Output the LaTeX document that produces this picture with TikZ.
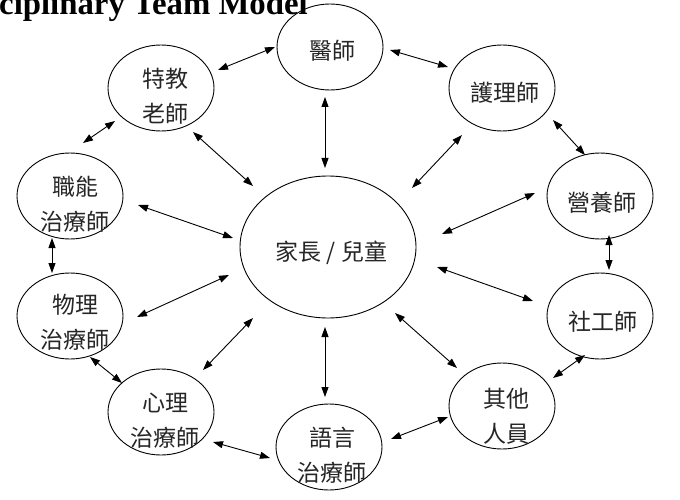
\documentclass[tikz,border=0pt]{standalone}
\usepackage{fontspec}
\setmainfont{Liberation Serif}
\newfontfamily\cjk{Noto Sans CJK TC}
\usetikzlibrary{arrows.meta,calc,shapes.geometric}
\begin{document}
\begin{tikzpicture}[x=1pt,y=-1pt,
  ell/.style={ellipse, draw, line width=0.9pt, minimum width=106pt, minimum height=86pt, inner sep=0pt},
  big/.style={ellipse, draw, line width=0.9pt, minimum width=176pt, minimum height=142pt, inner sep=0pt},
  lbl/.style={inner sep=0pt, align=center, text=black!85, font=\cjk\fontsize{23}{35}\selectfont},
  lk/.style={{Triangle[length=10pt,width=7pt]}-{Triangle[length=10pt,width=7pt]}, line width=0.9pt},
  ttl/.style={inner sep=0pt, anchor=base west, font=\fontsize{32.8}{38}\selectfont\bfseries}]
\fill[white] (0,0) rectangle (680,500);
\useasboundingbox (0,0) rectangle (680,500);
\begin{scope}
\clip (0,0) rectangle (680,500);
\node[ttl] (title) at (-1,14.5) {ciplinary Team Model};
\end{scope}
% ellipses
\node[ell] (T) at (161,88) {};
\node[ell] (D) at (330,47) {};
\node[ell] (N) at (502,88) {};
\node[ell] (Z) at (70,196) {};
\node[ell] (W) at (70,316) {};
\node[ell] (Y) at (600,196) {};
\node[ell] (S) at (600,316) {};
\node[ell] (X) at (161,412) {};
\node[ell] (L) at (329,447) {};
\node[ell] (O) at (502,406) {};
\node[big] (C) at (328,247) {};
% labels
\node[lbl] (Tt) at (165,96.5) {特教\\老師};
\node[lbl] (Dt) at (332.5,51) {醫師};
\node[lbl] (Nt) at (504.5,93) {護理師};
\node[lbl] (Zt) at (75,204) {職能\\治療師};
\node[lbl] (Wt) at (75,322.5) {物理\\治療師};
\node[lbl] (Yt) at (602,203) {營養師};
\node[lbl] (St) at (602.5,322) {社工師};
\node[lbl] (Xt) at (165,420.5) {心理\\治療師};
\node[lbl] (Lt) at (332,455.5) {語言\\治療師};
\node[lbl] (Ot) at (506.5,416) {其他\\人員};
\node[lbl] (Ct) at (331.5,253) {家長 / 兒童};
% connectors
\draw[lk] ($(T)+(57,-18)$) -- ($(D)+(-55,0)$);
\draw[lk] ($(D)+(60,3)$) -- ($(N)+(-54,-21)$);
\draw[lk] ($(N)+(51,32)$) -- ($(Y)+(-15,-41)$);
\draw[lk] ($(D)+(-5,50)$) -- ($(C)+(-3,-79)$);
\draw[lk] ($(T)+(32,44)$) -- ($(C)+(-75,-61)$);
\draw[lk] ($(N)+(-40,47)$) -- ($(C)+(84,-59)$);
\draw[lk] ($(T)+(-46,33)$) -- ($(Z)+(13,-53)$);
\draw[lk] ($(Z)+(68,9)$) -- ($(C)+(-95,-9)$);
\draw[lk] ($(Z)+(-18,42)$) -- ($(W)+(-18,-43)$);
\draw[lk] ($(W)+(67,1)$) -- ($(C)+(-99,28)$);
\draw[lk] ($(Y)+(-65,-3)$) -- ($(C)+(114,-13)$);
\draw[lk] ($(Y)+(9,39)$) -- ($(S)+(9,-46)$);
\draw[lk] ($(S)+(-67,-15)$) -- ($(C)+(109,20)$);
\draw[lk] ($(O)+(-45,-38)$) -- ($(C)+(67,66)$);
\draw[lk] ($(S)+(-15,39)$) -- ($(O)+(51,-28)$);
\draw[lk] ($(O)+(-54,11)$) -- ($(L)+(62,-8)$);
\draw[lk] ($(L)+(-4,-50)$) -- ($(C)+(-3,80)$);
\draw[lk] ($(X)+(42,-42)$) -- ($(C)+(-75,71)$);
\draw[lk] ($(X)+(-39,-29)$) -- ($(W)+(20,41)$);
\draw[lk] ($(X)+(52,30)$) -- ($(L)+(-59,11)$);
\end{tikzpicture}
\end{document}
